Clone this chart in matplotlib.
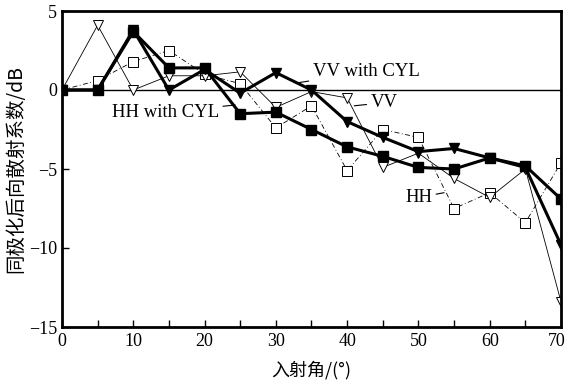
"""
Co-polarised backscatter vs incidence angle (HH / VV, with and without CYL).
Writes out.png (568x388).
"""
import matplotlib
matplotlib.use("Agg")
import matplotlib.pyplot as plt
import matplotlib.transforms as mtransforms

# ---- data ----
angle = [0, 5, 10, 15, 20, 25, 30, 35, 40, 45, 50, 55, 60, 65, 70]

hh = [0, 0.6, 1.8, 2.5, 1.0, 0.4, -2.4, -1.0, -5.1, -2.5, -3.0, -7.5, -6.5, -8.4, -4.6]
vv = [0, 4.1, 0, 0.9, 0.9, 1.15, -1.1, -0.1, -0.5, -4.9, -4.0, -5.6, -6.8, -5.0, -13.4]
hh_cyl = [0, 0, 3.7, 1.4, 1.4, -1.5, -1.4, -2.5, -3.6, -4.2, -4.9, -5.0, -4.3, -4.8, -6.9]
vv_cyl = [0, 0, 3.8, 0, 1.3, -0.2, 1.1, 0, -2.0, -3.0, -3.9, -3.7, -4.3, -4.9, -9.8]

x_ticks = [0, 10, 20, 30, 40, 50, 60, 70]
y_ticks = [-15, -10, -5, 0, 5]

XLABEL = "入射角/(°)"
YLABEL = "同极化后向散射系数/dB"

CJK = ["Noto Sans CJK SC", "DejaVu Sans"]
SERIF = ["Liberation Serif", "DejaVu Serif"]

plt.rcParams["font.family"] = SERIF
plt.rcParams["axes.unicode_minus"] = True

fig = plt.figure(figsize=(5.68, 3.88), dpi=100)
ax = fig.add_axes([62 / 568, 1 - 327 / 388, (561 - 62) / 568, (327 - 11) / 388])

ax.axhline(0, color="black", lw=1.0, zorder=1)

# thin series (no cylinder)
ax.plot(angle, hh, color="black", lw=0.6, ls=(0, (6, 3, 1, 3)),
        marker="s", ms=6.5, mfc="white", mec="black", mew=0.7, zorder=2)
ax.plot(angle, vv, color="black", lw=0.6, ls="-",
        marker="v", ms=7.5, mfc="white", mec="black", mew=0.7, zorder=2)

# thick series (with cylinder)
ax.plot(angle, hh_cyl, color="black", lw=2.2,
        marker="s", ms=6.5, mfc="black", mec="black", zorder=3)
ax.plot(angle, vv_cyl, color="black", lw=2.2,
        marker="v", ms=7.5, mfc="black", mec="black", zorder=3)

# labels with little leader lines
lead = dict(arrowstyle="-", color="black", lw=0.8, shrinkA=1, shrinkB=0)
ax.annotate("VV with CYL", xy=(33.0, 0.45), xytext=(35.2, 1.15),
            ha="left", va="center", fontsize=13.5, arrowprops=lead)
ax.annotate("VV", xy=(41.0, -1.0), xytext=(43.3, -0.8),
            ha="left", va="center", fontsize=13.5, arrowprops=lead)
ax.annotate("HH with CYL", xy=(24.3, -0.95), xytext=(22.0, -1.4),
            ha="right", va="center", fontsize=13.5, arrowprops=lead)
ax.annotate("HH", xy=(53.6, -6.5), xytext=(51.9, -6.8),
            ha="right", va="center", fontsize=13.5, arrowprops=lead)

ax.set_xlim(0, 70)
ax.set_ylim(-15, 5)
ax.set_xticks(x_ticks)
ax.set_xticks(range(0, 71, 5), minor=True)
ax.set_yticks(y_ticks)
ax.tick_params(which="both", direction="in", labelsize=13, width=1.0)
ax.tick_params(which="major", length=5)
ax.tick_params(which="minor", length=5)
ax.tick_params(axis="x", pad=4)

# last x label sits on the figure edge; nudge it in a little
last = ax.get_xticklabels()[-1]
last.set_transform(last.get_transform() +
                   mtransforms.ScaledTranslation(-4 / 100, 0, fig.dpi_scale_trans))

for side in ("left", "right", "top", "bottom"):
    ax.spines[side].set_linewidth(2.0)

ax.set_xlabel(XLABEL, family=CJK, fontsize=13, labelpad=8)
ax.set_ylabel(YLABEL, family=CJK, fontsize=14, labelpad=2)

fig.savefig("out.png", dpi=100)
